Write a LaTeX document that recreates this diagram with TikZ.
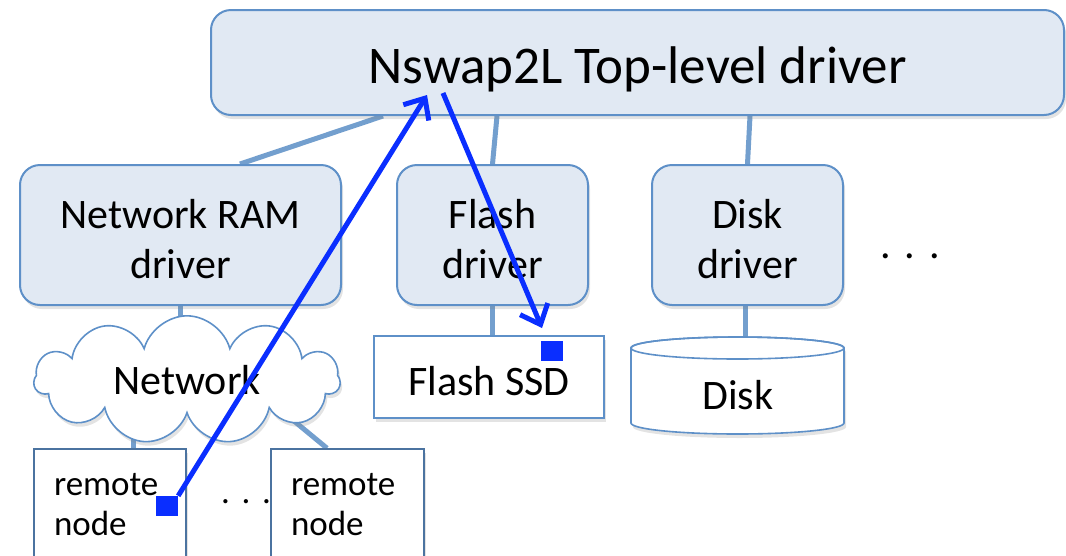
\documentclass[tikz,border=0pt]{standalone}
\usepackage{fontspec}
\setmainfont{Carlito}
\usetikzlibrary{shapes.symbols,shadows,arrows.meta,backgrounds}
\definecolor{boxfill}{HTML}{E1E9F3}
\definecolor{boxline}{HTML}{5E90C8}
\definecolor{conn}{HTML}{739FCE}
\definecolor{arrowblue}{HTML}{0A2EFF}
\tikzset{
  softshadow/.style={drop shadow={shadow xshift=2pt,shadow yshift=-4pt,opacity=0.22}},
  driverbox/.style={draw=boxline,line width=2pt,fill=boxfill,rounded corners=20pt,
    inner sep=0pt,softshadow},
  boxtext/.style={align=center,font=\fontsize{42}{50}\selectfont,inner sep=0pt},
  plainbox/.style={draw=boxline,line width=1.6pt,fill=white,inner sep=0pt,softshadow},
  connector/.style={draw=conn,line width=5pt},
  flow/.style={draw=arrowblue,line width=5pt,-{Straight Barb[length=17pt,width=30pt,line width=5pt]}},
  marker/.style={fill=arrowblue,minimum width=22pt,minimum height=20pt,inner sep=0pt},
  dots/.style={inner sep=0pt},
}
\begin{document}
\begin{tikzpicture}[x=1pt,y=-1pt]
\useasboundingbox (0,0) rectangle (1066,555);
% top-level driver
\node[driverbox,minimum width=853pt,minimum height=105pt] (top) at (637.5,62.5) {};
\node[boxtext,font=\fontsize{53}{60}\selectfont] (toplabel) at ([yshift=-7pt]top.center) {Nswap2L Top-level driver};
% drivers
\node[driverbox,minimum width=321pt,minimum height=140pt] (netram) at (180.5,235) {};
\node[boxtext] (netramlabel) at ([yshift=-4pt]netram.center) {Network RAM\\driver};
\node[driverbox,minimum width=191pt,minimum height=140pt] (flash) at (492.5,235) {};
\node[boxtext] (flashlabel) at ([yshift=-4pt]flash.center) {Flash\\driver};
\node[driverbox,minimum width=191pt,minimum height=140pt] (diskdrv) at (747.5,235) {};
\node[boxtext] (disklabeltop) at ([yshift=-4pt]diskdrv.center) {Disk\\driver};
\node[dots,font=\fontsize{42}{50}\selectfont] (moredrv) at (910,256) {.\,\,.\,\,.};
% network cloud
\node[cloud,draw=boxline,fill=white,line width=1.6pt,cloud puffs=11,aspect=2.4,
  minimum width=306pt,minimum height=112pt,inner sep=0pt,softshadow,
  font=\fontsize{42}{50}\selectfont] (cloud) at (187,380) {Network};
% flash SSD
\node[plainbox,minimum width=230pt,minimum height=82pt] (ssd) at (489,377) {};
\node[boxtext] (ssdlabel) at ([yshift=-4pt]ssd.center) {Flash SSD};
% disk cylinder
\node[inner sep=0pt,minimum width=213pt,minimum height=97pt] (disk) at (737.5,384.5) {};
\path[fill=white,draw=boxline,line width=1.6pt,softshadow]
  (631,348) -- (631,423) arc[start angle=180,end angle=0,x radius=106.5,y radius=11]
  -- (844,348) arc[start angle=0,end angle=-180,x radius=106.5,y radius=11] -- cycle;
\draw[boxline,line width=1.6pt] (737.5,348) ellipse[x radius=106.5,y radius=11];
\node[boxtext] (disklabel) at (738,395) {Disk};
% remote nodes
\node[plainbox,draw=boxline!80!black,minimum width=152pt,minimum height=112pt,
  text width=112pt,align=left,inner xsep=20pt,font=\fontsize{35}{40}\selectfont]
  (r1) at (110,505) {remote\\node};
\node[plainbox,draw=boxline!80!black,minimum width=153pt,minimum height=112pt,
  text width=113pt,align=left,inner xsep=20pt,font=\fontsize{35}{40}\selectfont]
  (r2) at (347.5,505) {remote\\node};
\node[dots,font=\fontsize{35}{40}\selectfont] (moreremote) at (246,502) {.\,\,.\,\,.};
% connectors
\begin{pgfonlayer}{background}
  \draw[connector] ([xshift=-254.5pt]top.south) -- ([xshift=59.5pt]netram.north);
  \draw[connector] ([xshift=-140.5pt]top.south) -- (flash.north);
  \draw[connector] ([xshift=112.5pt]top.south) -- (diskdrv.north);
  \draw[connector] (netram.south) -- (netram.south |- cloud.center);
  \draw[connector] (flash.south) -- (flash.south |- ssd.center);
  \draw[connector] ([xshift=-2.5pt]diskdrv.south) -- ([xshift=-2.5pt]diskdrv.south |- disk.center);
  \draw[connector] ([xshift=23pt]r1.north) -- ([xshift=23pt]r1.north |- cloud.center);
  \draw[connector] ([xshift=-20.5pt]r2.north) -- ([shift={(84,22)}]cloud.center);
\end{pgfonlayer}
% blocks and flow arrows
\node[marker] (sq1) at (167,506) {};
\node[marker] (sq2) at (552,351) {};
\coordinate (tip1) at (427,95);
\coordinate (start2) at (443,93);
\coordinate (tip2) at (542,328);
\draw[flow] (sq1.north east) -- (tip1);
\draw[flow] (start2) -- (tip2);
\end{tikzpicture}
\end{document}
